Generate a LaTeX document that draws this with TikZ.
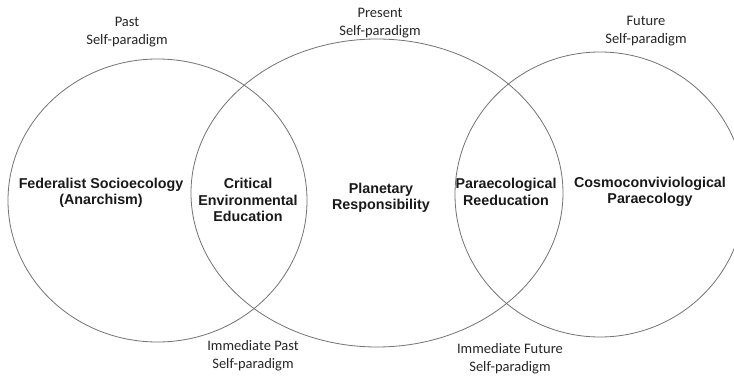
\documentclass[tikz,border=0pt]{standalone}
\usepackage{fontspec}
\setmainfont{Liberation Sans}
\newfontfamily\lightfont{Carlito}
\begin{document}
\begin{tikzpicture}[x=1pt,y=-1pt,
  ring/.style={draw=black!55,line width=0.8pt},
  timelabel/.style={align=center,font=\lightfont\fontsize{14.5}{18}\selectfont,text=black!85,inner sep=0pt},
  zonelabel/.style={align=center,font=\bfseries\fontsize{14.3}{16.5}\selectfont,text=black!90,inner sep=0pt}]
\useasboundingbox (0,0) rectangle (734,377);
\fill[white] (0,0) rectangle (734,377);
\clip (0,0) rectangle (734,377);
\draw[ring] (157.5,200.5) ellipse [x radius=149.5, y radius=141.5];
\draw[ring] (377,193) ellipse [x radius=186, y radius=154];
\draw[ring] (600,194.5) ellipse [x radius=145, y radius=142.5];
\node[timelabel] (past) at (127,32.5) {Past\\Self-paradigm};
\node[timelabel] (present) at (380,23.5) {Present\\Self-paradigm};
\node[timelabel] (future) at (646,31) {Future\\Self-paradigm};
\node[timelabel] (ipast) at (253,356) {Immediate Past\\Self-paradigm};
\node[timelabel] (ifuture) at (510,359) {Immediate Future\\Self-paradigm};
\node[zonelabel] (fed) at (101,193) {Federalist Socioecology\\(Anarchism)};
\node[zonelabel] (cee) at (248,200) {Critical\\Environmental\\Education};
\node[zonelabel] (pr) at (381,198) {Planetary\\Responsibility};
\node[zonelabel] (pre) at (506,192) {Paraecological\\Reeducation};
\node[zonelabel] (cp) at (650,192) {Cosmoconviviological\\Paraecology};
\end{tikzpicture}
\end{document}
